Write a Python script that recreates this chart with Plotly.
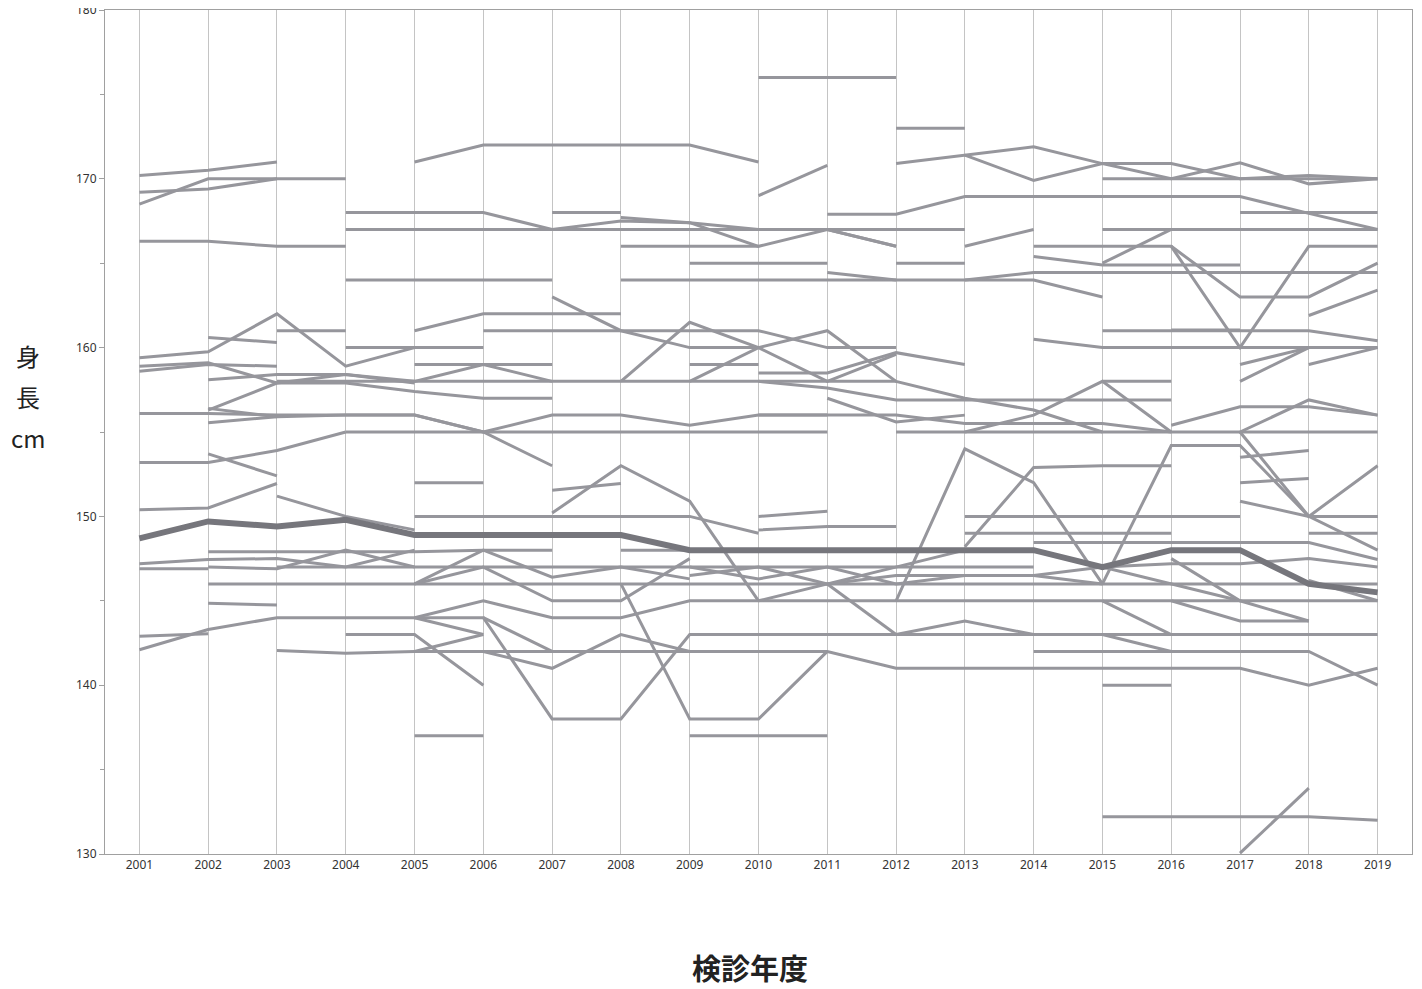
import plotly.graph_objects as go

years = list(range(2001, 2020))
y_ticks = [130, 140, 150, 160, 170, 180]

# each entry: (first year, heights in cm for consecutive years)
upper_lines = [
    (2001, [170.2, 170.5, 171.0]),
    (2001, [169.2, 169.4, 170.0, 170.0]),
    (2001, [168.5, 170.0, 170.0]),
    (2001, [166.3, 166.3, 166.0, 166.0]),
    (2005, [171.0, 172.0, 172.0, 172.0, 172.0, 171.0]),
    (2004, [168.0, 168.0, 168.0, 167.0]),
    (2007, [168.0, 168.0]),
    (2004, [167.0] * 10),
    (2004, [164.0] * 4),
    (2008, [164.0] * 7 + [163.0]),
    (2007, [167.0, 167.5, 167.4, 166.0, 167.0, 166.0]),
    (2008, [167.7, 167.4, 167.0, 167.0, 166.0]),
    (2008, [166.0, 166.0, 166.0]),
    (2009, [165.0, 165.0, 165.0]),
    (2012, [165.0, 165.0]),
    (2010, [176.0, 176.0, 176.0]),
    (2012, [173.0, 173.0]),
    (2010, [169.0, 170.8]),
    (2012, [170.9, 171.4, 171.9, 170.9, 170.9, 170.0, 170.2, 170.0]),
    (2013, [171.4, 169.9, 170.9, 170.0, 170.95, 169.7, 170.0]),
    (2015, [170.0] * 5),
    (2011, [167.9, 167.9, 168.95, 168.95, 168.95, 168.95, 168.95, 167.95, 167.0]),
    (2017, [168.0, 168.0, 168.0]),
    (2015, [167.0] * 5),
    (2013, [166.0, 167.0]),
    (2011, [164.45, 164.0]),
    (2013, [164.0, 164.45, 164.45, 164.45, 164.45, 164.45, 164.45]),
    (2014, [166.0, 166.0, 166.0, 160.0, 166.0, 166.0]),
    (2016, [166.0, 163.0, 163.0, 165.0]),
    (2014, [165.4, 164.9, 164.9, 164.9]),
    (2015, [165.0, 167.0]),
    (2018, [161.9, 163.4]),
    (2014, [160.5, 160.0, 160.0, 160.0, 160.0, 160.0]),
    (2015, [161.0, 161.0, 161.0, 161.0, 160.4]),
    (2016, [161.05, 161.05]),
]

middle_lines = [
    (2001, [159.4, 159.75, 162.0, 158.9, 160.0]),
    (2002, [160.6, 160.3]),
    (2003, [161.0, 161.0]),
    (2004, [160.0, 160.0, 160.0]),
    (2005, [161.0, 162.0, 162.0, 162.0]),
    (2006, [161.0, 161.0, 161.0, 161.0, 161.0, 160.0, 160.0]),
    (2007, [163.0, 161.0, 160.0, 160.0]),
    (2008, [158.0, 161.5, 160.0, 158.0, 159.6]),
    (2009, [158.0, 160.0, 161.0, 158.0, 157.0, 156.3, 155.0]),
    (2009, [159.0, 159.0]),
    (2010, [158.5, 158.5, 159.7, 159.0]),
    (2001, [158.9, 159.1, 157.9, 157.9, 157.4, 157.0, 157.0]),
    (2001, [158.6, 159.0, 158.9]),
    (2002, [158.1, 158.4, 158.4, 157.9]),
    (2002, [156.3, 157.9, 158.4, 158.0, 159.0, 158.0]),
    (2003, [158.0] * 10),
    (2005, [159.0, 159.0, 159.0]),
    (2001, [156.1, 156.1, 156.0, 156.0, 156.0, 155.0, 153.0]),
    (2002, [155.55, 155.9, 156.0, 156.0, 155.0, 156.0, 156.0, 155.4, 156.0, 156.0]),
    (2002, [156.4, 155.9]),
    (2004, [155.0] * 8),
    (2012, [155.0] * 8),
    (2001, [153.2, 153.2, 153.9, 155.0]),
    (2002, [153.7, 152.4]),
    (2001, [150.4, 150.5, 151.95]),
    (2003, [151.2, 150.0, 149.2]),
    (2005, [152.0, 152.0]),
    (2007, [151.55, 151.95]),
    (2007, [150.2, 153.0, 150.9, 145.0]),
    (2005, [150.0, 150.0, 150.0, 150.0, 150.0, 149.0]),
    (2010, [149.2, 149.4, 149.4]),
    (2010, [150.0, 150.3]),
]

lower_lines = [
    (2002, [147.9, 147.9, 147.9, 147.9, 148.0, 148.0]),
    (2008, [148.0, 148.0]),
    (2001, [147.2, 147.45, 147.5, 147.0, 148.0]),
    (2001, [146.9, 146.9]),
    (2002, [147.0, 146.9, 148.0, 147.0]),
    (2003, [147.0] * 12),
    (2002, [146.0] * 18),
    (2005, [144.0, 145.0, 144.0, 144.0, 145.0] + [145.0] * 10),
    (2002, [144.85, 144.75]),
    (2001, [142.1, 143.3, 144.0, 144.0, 144.0, 144.0, 138.0, 138.0]
     + [143.0] * 11),
    (2001, [142.9, 143.05]),
    (2005, [144.0, 143.0]),
    (2005, [142.0, 143.0]),
    (2004, [143.0, 143.0, 140.0]),
    (2003, [142.05, 141.9, 142.0, 142.0, 142.0, 142.0, 142.0, 142.0, 142.0,
            141.0, 141.0, 141.0, 141.0, 141.0, 141.0, 140.0, 141.0]),
    (2006, [142.0, 141.0, 143.0, 142.0]),
    (2005, [146.0, 147.0, 145.0, 145.0, 147.5]),
    (2005, [146.0, 148.0, 146.4, 147.0, 146.3]),
    (2006, [144.0, 142.0]),
    (2008, [146.0, 138.0, 138.0, 142.0]),
    (2005, [137.0, 137.0]),
    (2009, [137.0, 137.0, 137.0]),
    (2012, [143.0, 143.8, 143.0]),
    (2014, [142.0, 142.0, 142.0, 142.0, 142.0, 140.0]),
    (2015, [140.0, 140.0]),
    (2015, [132.2, 132.2, 132.2, 132.2, 132.0]),
    (2017, [130.05, 133.9]),
    (2016, [145.0, 143.8, 143.8]),
    (2015, [145.0, 143.0]),
    (2015, [143.0, 142.0]),
    (2018, [146.2, 145.0]),
]

right_lines = [
    (2010, [158.0, 157.6, 156.9, 156.9, 156.9, 156.9, 156.9]),
    (2011, [157.0, 155.6, 156.0]),
    (2010, [156.0, 156.0, 156.0, 155.5, 155.5, 155.5, 155.0]),
    (2013, [155.0, 156.0, 158.0, 155.0]),
    (2015, [158.0, 158.0]),
    (2016, [155.4, 156.5, 156.5, 156.0]),
    (2017, [155.0, 156.9, 156.0]),
    (2015, [146.0, 154.2, 154.2, 150.0, 153.0]),
    (2017, [155.0, 150.0, 148.0]),
    (2017, [153.5, 153.9]),
    (2017, [152.0, 152.25]),
    (2017, [150.9, 150.0, 150.0]),
    (2013, [150.0] * 5),
    (2018, [150.0, 150.0]),
    (2013, [149.0] * 4),
    (2018, [149.0, 149.0]),
    (2014, [148.45] * 5 + [147.45]),
    (2015, [147.0, 147.2, 147.2, 147.5, 147.0]),
    (2012, [145.0, 154.0, 152.0, 146.0]),
    (2013, [148.2, 152.9, 153.0, 153.0]),
    (2011, [146.0, 143.0]),
    (2010, [145.0, 146.0, 147.0, 148.0]),
    (2009, [147.0, 146.3, 147.0, 146.0, 146.5, 146.5, 146.0]),
    (2009, [146.5, 147.0, 146.0, 146.5, 146.5, 146.5, 147.0, 146.0, 145.0]),
    (2016, [147.5, 145.0, 143.8]),
    (2017, [159.0, 160.0]),
    (2017, [158.0, 160.0]),
    (2018, [159.0, 160.0]),
]

bold_subject = (2001, [148.7, 149.7, 149.4, 149.8, 148.9, 148.9, 148.9, 148.9,
                       148.0, 148.0, 148.0, 148.0, 148.0, 148.0, 147.0, 148.0,
                       148.0, 146.0, 145.5])

THIN = "rgb(150,150,156)"
BOLD = "rgb(118,118,124)"

fig = go.Figure()
for group in (upper_lines, middle_lines, lower_lines, right_lines):
    for start, vals in group:
        fig.add_trace(go.Scatter(
            x=list(range(start, start + len(vals))), y=vals, mode="lines",
            line=dict(color=THIN, width=3), hoverinfo="skip", showlegend=False))

start, vals = bold_subject
fig.add_trace(go.Scatter(
    x=list(range(start, start + len(vals))), y=vals, mode="lines",
    line=dict(color=BOLD, width=6), showlegend=False))

# page body adds 8px offset; plot area targeted at x 105-1412, y 10-854
fig.update_layout(
    width=1414, height=981,
    margin=dict(l=97, r=10, t=2, b=135, autoexpand=False),
    paper_bgcolor="white", plot_bgcolor="white",
    font=dict(family="Noto Sans, DejaVu Sans, sans-serif", color="#333"),
)
fig.update_xaxes(
    range=[2000.5, 2019.5], tickmode="array", tickvals=years,
    ticktext=[str(y) for y in years], tickfont=dict(size=12, color="#333"),
    showgrid=True, gridcolor="#c4c4c4", gridwidth=1,
    showline=True, linecolor="#a0a0a0", linewidth=1, mirror=True,
    ticks="", zeroline=False, automargin=False,
)
fig.update_yaxes(
    range=[130, 180], tickmode="array", tickvals=y_ticks,
    tickfont=dict(size=12, color="#333"), ticklabeloverflow="allow",
    showgrid=False, zeroline=False, automargin=False,
    showline=True, linecolor="#a0a0a0", linewidth=1, mirror=True,
    ticks="outside", ticklen=5, tickcolor="#a0a0a0",
    minor=dict(tickvals=[135, 145, 155, 165, 175], ticks="outside",
               ticklen=4, tickcolor="#a0a0a0"),
)
PH = 844.0
for txt, ypx in (("身", 356), ("長", 396), ("cm", 437)):
    fig.add_annotation(
        text=txt, xref="paper", yref="paper",
        x=(28 - 105) / 1307, y=(854 - ypx) / PH, showarrow=False,
        font=dict(size=24, family="Noto Sans CJK JP", color="#222"),
        yanchor="middle", xanchor="center",
    )
fig.add_annotation(
    text="<b>検診年度</b>", xref="paper", yref="paper",
    x=(750 - 105) / 1307, y=(854 - 967) / PH, showarrow=False,
    font=dict(size=29, family="Noto Sans CJK JP", color="#222"),
    yanchor="middle",
)
fig.write_html("out.html")
